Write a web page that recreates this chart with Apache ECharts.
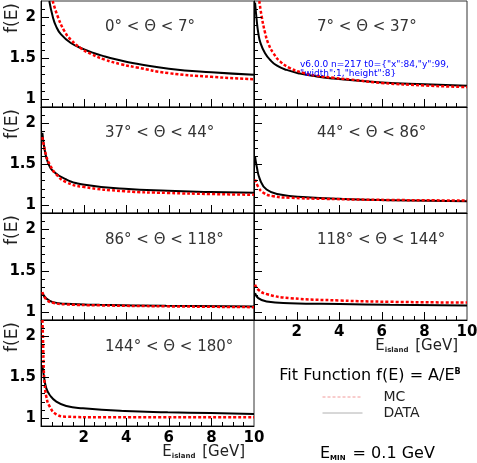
<!DOCTYPE html>
<html>
<head>
<meta charset="utf-8">
<script src="https://cdn.jsdelivr.net/npm/echarts@6/dist/echarts.min.js"></script>
<style>
html, body { margin: 0; padding: 0; background: #fff; }
#chart { width: 477px; height: 463px; }
</style>
</head>
<body>
<div id="chart"></div>
<script>
// theta ranges, one per panel (left to right, top to bottom)
const thetaRanges = ['0° < Θ < 7°', '7° < Θ < 37°', '37° < Θ < 44°', '44° < Θ < 86°',
    '86° < Θ < 118°', '118° < Θ < 144°', '144° < Θ < 180°']
const yTickValues = [1, 1.5, 2]
const yMinorTicks = [1.1, 1.2, 1.3, 1.4, 1.6, 1.7, 1.8, 1.9, 2.1]
const xMajorTicks = [2, 4, 6, 8]
const xMinorTicks = [0.5, 1, 1.5, 2.5, 3, 3.5, 4.5, 5, 5.5, 6.5, 7, 7.5, 8.5, 9, 9.5]

// fitted curves, [E (GeV), f(E)]
const data0to7 = [[0.39, 2.2], [0.55, 2.01], [0.7, 1.895], [0.94, 1.79], [1.4, 1.685], [2, 1.61], [2.5, 1.56], [3, 1.52], [3.5, 1.485], [4, 1.455], [4.5, 1.43], [6, 1.37], [8, 1.325], [10, 1.295]]
const mc0to7 = [[0.55, 2.2], [0.8, 2.0], [1.1, 1.83], [1.4, 1.725], [1.9, 1.615], [2.35, 1.55], [3, 1.48], [3.75, 1.425], [4.5, 1.385], [6, 1.315], [8, 1.27], [10, 1.24]]
const data7to37 = [[0.05, 2.18], [0.125, 1.97], [0.2, 1.81], [0.31, 1.68], [0.52, 1.56], [0.75, 1.48], [1.06, 1.41], [1.53, 1.355], [2.16, 1.31], [2.94, 1.275], [3.72, 1.25], [4.5, 1.232], [6, 1.2], [8, 1.178], [10, 1.16]]
const mc7to37 = [[0.25, 2.2], [0.36, 2.01], [0.52, 1.81], [0.67, 1.68], [0.91, 1.56], [1.22, 1.46], [1.69, 1.377], [2.31, 1.318], [2.94, 1.283], [3.72, 1.258], [4.5, 1.238], [6, 1.195], [8, 1.164], [10, 1.144]]
const data37to44 = [[0.065, 1.884], [0.17, 1.679], [0.33, 1.516], [0.57, 1.413], [1.19, 1.311], [1.97, 1.25], [3.93, 1.197], [5.95, 1.172], [7.96, 1.158], [10, 1.148]]
const mc37to44 = [[0.065, 1.83], [0.25, 1.597], [0.41, 1.495], [0.72, 1.372], [1.19, 1.278], [1.97, 1.221], [3.93, 1.167], [5.95, 1.146], [7.96, 1.133], [10, 1.123]]
const data44to86 = [[0.05, 1.59], [0.125, 1.474], [0.28, 1.311], [0.59, 1.188], [1.22, 1.127], [2.47, 1.094], [4.04, 1.074], [6.38, 1.057], [10, 1.045]]
const mc44to86 = [[0.05, 1.311], [0.2, 1.221], [0.44, 1.148], [0.91, 1.106], [1.69, 1.087], [3.25, 1.074], [6.38, 1.06], [10, 1.053]]
const data86to118 = [[0.065, 1.228], [0.25, 1.16], [0.56, 1.117], [1.19, 1.096], [2.75, 1.084], [5.87, 1.072], [10, 1.063]]
const mc86to118 = [[0.065, 1.24], [0.25, 1.15], [0.56, 1.11], [1.19, 1.09], [2.75, 1.078], [5.87, 1.066], [10, 1.056]]
const data118to144 = [[0.05, 1.228], [0.2, 1.166], [0.59, 1.125], [1.69, 1.105], [4.04, 1.093], [6.38, 1.084], [10, 1.076]]
const mc118to144 = [[0.05, 1.33], [0.2, 1.268], [0.59, 1.215], [1.69, 1.166], [4.04, 1.137], [6.38, 1.121], [10, 1.112]]
const data144to180 = [[0.065, 1.648], [0.14, 1.505], [0.25, 1.362], [0.41, 1.28], [0.72, 1.198], [1.19, 1.145], [1.97, 1.117], [3.93, 1.084], [5.95, 1.068], [7.96, 1.058], [10, 1.047]]
const mc144to180 = [[0.07, 2.2], [0.1, 1.9], [0.13, 1.6], [0.17, 1.42], [0.25, 1.26], [0.41, 1.137], [0.72, 1.043], [1.19, 1.014], [2.75, 1.007], [10, 1.007]]

const dataCurves = [data0to7, data7to37, data37to44, data44to86, data86to118, data118to144, data144to180]
const mcCurves = [mc0to7, mc7to37, mc37to44, mc44to86, mc86to118, mc118to144, mc144to180]

const xMin = 0
const xMax = 10
const yMin = 0.9
const yMax = 2.2
const rowTop = [1, 107, 213, 320]
const rowHeight = [106, 106, 107, 106]
const colLeft = [41, 254]
const panelWidth = 213
const labelTop = [27, 133, 240, 347]
const labelLeft = [105, 317]

const grids = []
const xAxes = []
const yAxes = []
const series = []
const graphics = []

thetaRanges.forEach((range, i) => {
    const row = Math.floor(i / 2)
    const col = i % 2
    const showX = i === 5 || i === 6
    const showY = col === 0
    grids.push({
        left: colLeft[col],
        top: rowTop[row],
        width: panelWidth,
        height: rowHeight[row],
        show: true,
        backgroundColor: 'transparent',
        borderColor: '#333',
        borderWidth: 1,
        outerBoundsMode: 'none'
    })
    xAxes.push({
        gridIndex: i,
        type: 'value',
        min: xMin,
        max: xMax,
        interval: 2,
        axisLine: { show: true, onZero: false, lineStyle: { color: '#000', width: 1 } },
        axisTick: { show: false },
        splitLine: { show: false },
        axisLabel: {
            show: showX,
            showMinLabel: false,
            margin: 5,
            color: '#000',
            fontFamily: 'DejaVu Sans',
            fontWeight: 'bold',
            fontSize: 15
        },
        name: showX ? '{e|E}{s|island}{e| [GeV]}' : '',
        nameLocation: 'end',
        nameGap: -9,
        nameMoveOverlap: false,
        nameTextStyle: {
            align: 'right',
            verticalAlign: 'top',
            padding: [19, 0, 0, 0],
            rich: {
                e: { fontFamily: 'DejaVu Sans', fontSize: 15, color: '#222' },
                s: { fontFamily: 'DejaVu Sans', fontSize: 7, fontWeight: 'bold', color: '#222', verticalAlign: 'bottom', padding: [0, 2, 0, 0] }
            }
        }
    })
    yAxes.push({
        gridIndex: i,
        type: 'value',
        min: yMin,
        max: yMax,
        position: 'left',
        axisLine: { show: true, onZero: false, lineStyle: { color: '#000', width: 1 } },
        axisTick: { show: false },
        splitLine: { show: false },
        axisLabel: {
            show: showY,
            customValues: yTickValues,
            margin: 5,
            color: '#000',
            fontFamily: 'DejaVu Sans',
            fontWeight: 'bold',
            fontSize: 15
        },
        name: showY ? 'f(E)' : '',
        nameLocation: 'end',
        nameRotate: 90,
        nameGap: -2,
        nameMoveOverlap: false,
        nameTextStyle: {
            fontFamily: 'DejaVu Sans',
            fontSize: 17,
            color: '#222',
            align: 'right',
            verticalAlign: 'bottom',
            padding: [0, 0, 20, 0]
        }
    })
    series.push({
        name: 'DATA',
        type: 'line',
        xAxisIndex: i,
        yAxisIndex: i,
        data: dataCurves[i],
        smooth: 0.5,
        symbol: 'none',
        lineStyle: { color: '#000', width: 2 }
    })
    series.push({
        name: 'MC',
        type: 'line',
        xAxisIndex: i,
        yAxisIndex: i,
        data: mcCurves[i],
        smooth: 0.5,
        symbol: 'none',
        lineStyle: { color: '#ff0000', width: 2.5, type: [3, 2] }
    })
    graphics.push({
        type: 'text',
        x: labelLeft[col],
        y: labelTop[row],
        style: {
            text: range,
            font: '15px "DejaVu Sans"',
            fill: '#333',
            align: 'left',
            verticalAlign: 'middle'
        }
    })
})

graphics.push({
    type: 'text',
    x: 370,
    y: 376,
    style: {
        text: '{n|Fit Function f(E) = A/E}{sup|B}',
        align: 'center',
        verticalAlign: 'middle',
        rich: {
            n: { fontFamily: 'DejaVu Sans', fontSize: 16, color: '#333' },
            sup: { fontFamily: 'DejaVu Sans', fontSize: 8, fontWeight: 'bold', color: '#333', verticalAlign: 'top' }
        }
    }
})
graphics.push({
    type: 'text',
    x: 320,
    y: 454,
    style: {
        text: '{n|E}{s|MIN}{n| = 0.1 GeV}',
        align: 'left',
        verticalAlign: 'middle',
        rich: {
            n: { fontFamily: 'DejaVu Sans', fontSize: 16, color: '#333' },
            s: { fontFamily: 'DejaVu Sans', fontSize: 7, fontWeight: 'bold', color: '#333', verticalAlign: 'bottom', padding: [0, 2, 0, 0] }
        }
    }
})

// panel point -> pixel, through the grid's own scales
let debug = 'v' + echarts.version
const myChart = echarts.init(document.getElementById('chart'), null, { renderer: 'canvas' })
const toPixel = (i, point) => {
    let p = null
    try {
        p = myChart.convertToPixel({ gridIndex: i }, point)
    } catch (e) {
        debug += ' err:' + e.message
        p = null
    }
    if (!p || !isFinite(p[0]) || !isFinite(p[1])) {
        const row = Math.floor(i / 2)
        const col = i % 2
        p = [
            colLeft[col] + (point[0] - xMin) / (xMax - xMin) * panelWidth,
            rowTop[row] + rowHeight[row] - (point[1] - yMin) / (yMax - yMin) * rowHeight[row]
        ]
    }
    return p
}

// inward-pointing ticks drawn as thin filled rects
const tickRect = (x, y, w, h) => ({
    type: 'rect',
    silent: true,
    z: 100,
    shape: { x: x, y: y, width: w, height: h },
    style: { fill: '#000' }
})

const baseOption = {
    animation: false,
    backgroundColor: '#fff',
    grid: grids,
    xAxis: xAxes,
    yAxis: yAxes,
    legend: {
        orient: 'vertical',
        left: 322,
        top: 390,
        itemWidth: 40,
        itemHeight: 14,
        itemGap: 2,
        selectedMode: false,
        padding: 0,
        data: [
            { name: 'MC', lineStyle: { color: '#f29a9a', width: 1, type: [3, 2] } },
            { name: 'DATA', lineStyle: { color: '#b0b0b0', width: 1, type: 'solid' } }
        ],
        itemStyle: { color: 'transparent', borderWidth: 0, opacity: 0 },
        textStyle: { fontFamily: 'DejaVu Sans', fontSize: 14, color: '#222', padding: [0, 0, 0, 16] }
    },
    series: series
}
myChart.setOption(baseOption)

const ticks = []
try {
    thetaRanges.forEach((range, i) => {
        const origin = toPixel(i, [xMin, yMin])
        const left = Math.round(origin[0])
        const bottom = Math.round(origin[1])
        xMajorTicks.forEach(v => {
            const px = Math.round(toPixel(i, [v, yMin])[0])
            ticks.push(tickRect(px, bottom - 8, 1, 8))
        })
        xMinorTicks.forEach(v => {
            const px = Math.round(toPixel(i, [v, yMin])[0])
            ticks.push(tickRect(px, bottom - 4, 1, 4))
        })
        yTickValues.forEach(v => {
            const py = Math.round(toPixel(i, [xMin, v])[1])
            ticks.push(tickRect(left, py, 8, 1))
        })
        yMinorTicks.forEach(v => {
            const py = Math.round(toPixel(i, [xMin, v])[1])
            ticks.push(tickRect(left, py, 4, 1))
        })
    })
    debug += ' n=' + ticks.length + ' t0=' + JSON.stringify(ticks[0].shape)
} catch (e) {
    debug += ' loopErr:' + e.message
}
graphics.push({
    type: 'text',
    x: 300,
    y: 60,
    z: 200,
    style: { text: debug, font: '9px "DejaVu Sans"', fill: '#00f', width: 160, overflow: 'break' }
})
try {
    myChart.setOption({ graphic: { elements: graphics.concat(ticks) } })
} catch (e) {
    document.body.insertAdjacentHTML('beforeend', '<div style="position:absolute;left:300px;top:80px;font:9px sans-serif;color:#00f">' + e.message + '</div>')
}

window.onresize = function () {
    myChart.resize()
}
</script>
</body>
</html>
